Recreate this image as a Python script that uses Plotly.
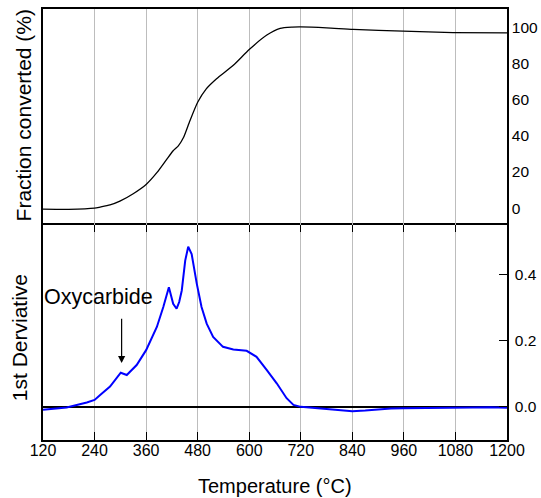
import plotly.graph_objects as go

# Top panel: fraction converted (%)
temp_frac = [120, 180, 240, 253, 276, 299, 330, 360, 385, 408, 423, 435, 447, 462,
             480, 500, 524, 563, 600, 641, 672, 700, 720, 780, 842, 958, 1074, 1200]
frac = [-0.5, -0.6, 0.0, 0.6, 1.8, 3.9, 8.0, 13.1, 19.6, 27.0, 31.7, 34.4, 39.0, 48.3,
        58.5, 65.9, 71.5, 78.9, 87.6, 95.6, 99.3, 100.0, 100.1, 99.6, 98.7, 97.8, 97.0, 96.8]

# Bottom panel: 1st derivative
temp_der = [120, 175, 222, 240, 253, 276, 301, 315, 338, 360, 385, 400, 413, 423, 431, 437,
            443, 451, 458, 466, 478, 489, 501, 516, 539, 563, 594, 617, 641, 664, 687,
            703, 720, 750, 780, 810, 840, 870, 900, 930, 958, 1000, 1040, 1074, 1120,
            1160, 1200]
deriv = [-0.009, -0.002, 0.013, 0.021, 0.036, 0.061, 0.103, 0.096, 0.126, 0.171, 0.241,
         0.301, 0.361, 0.311, 0.296, 0.316, 0.351, 0.441, 0.483, 0.461, 0.371, 0.301,
         0.251, 0.211, 0.181, 0.173, 0.169, 0.151, 0.111, 0.071, 0.026, 0.006, 0.0,
         -0.003, -0.007, -0.011, -0.013, -0.011, -0.007, -0.005, -0.004, -0.004, -0.003,
         -0.002, -0.002, -0.001, -0.003]

x_ticks = [120, 240, 360, 480, 600, 720, 840, 960, 1080, 1200]
top_y_ticks = [0, 20, 40, 60, 80, 100]
bot_y_ticks = [0.0, 0.2, 0.4]
bot_y_labels = ["0.0", "0.2", "0.4"]

FONT = "Arial, Liberation Sans, sans-serif"
SPLIT = 0.5

fig = go.Figure()
fig.add_trace(go.Scatter(x=temp_frac, y=frac, mode="lines", xaxis="x2", yaxis="y2",
                         line=dict(color="black", width=1.3, shape="spline", smoothing=0.6),
                         showlegend=False))
fig.add_trace(go.Scatter(x=temp_der, y=deriv, mode="lines", xaxis="x", yaxis="y",
                         line=dict(color="#0000ff", width=2), showlegend=False))

fig.update_layout(
    width=541, height=498,
    margin=dict(l=43, r=34, t=9, b=58, autoexpand=False),
    paper_bgcolor="white", plot_bgcolor="white",
    font=dict(family=FONT, size=16, color="black"),
    xaxis=dict(domain=[0, 1], anchor="y", range=[120, 1200], tickvals=x_ticks,
               showline=True, linecolor="black", linewidth=1.5, mirror="ticks",
               ticks="inside", ticklen=8, tickwidth=1.3, tickcolor="black",
               showgrid=True, gridcolor="#bdbdbd", gridwidth=1, zeroline=False,
               tickfont=dict(size=16), ticklabelstandoff=-5, automargin=False),
    xaxis2=dict(domain=[0, 1], anchor="y2", side="top", range=[120, 1200], tickvals=x_ticks,
                matches="x", showticklabels=False, showline=True, linecolor="black",
                linewidth=1.5, mirror=False, ticks="", showgrid=True,
                gridcolor="#bdbdbd", gridwidth=1, zeroline=False, automargin=False),
    yaxis=dict(domain=[0, SPLIT], anchor="x", side="right", range=[-0.1, 0.55],
               tickvals=bot_y_ticks, ticktext=bot_y_labels, showline=True,
               linecolor="black", linewidth=1.5, mirror=True, ticks="inside",
               ticklen=8, tickwidth=1.3, tickcolor="black", showgrid=False,
               zeroline=True, zerolinecolor="black", zerolinewidth=1.5,
               tickfont=dict(size=15.5), ticklabelstandoff=3, automargin=False),
    yaxis2=dict(domain=[SPLIT, 1], anchor="x2", side="right", range=[-9, 110],
                tickvals=top_y_ticks, showline=True, linecolor="black", linewidth=1.5,
                mirror=True, ticks="", showgrid=False, zeroline=False,
                tickfont=dict(size=15.5), ticklabelstandoff=0, automargin=False),
)

fig.add_annotation(text="Temperature (°C)", xref="paper", yref="paper",
                   x=0.5, y=-0.107, xanchor="center", yanchor="middle",
                   showarrow=False, font=dict(size=20))
fig.add_annotation(text="Fraction converted (%)", xref="paper", yref="paper",
                   x=-0.042, y=0.752, xanchor="center", yanchor="middle",
                   textangle=-90, showarrow=False, font=dict(size=21))
fig.add_annotation(text="1st Derviative", xref="paper", yref="paper",
                   x=-0.05, y=0.238, xanchor="center", yanchor="middle",
                   textangle=-90, showarrow=False, font=dict(size=21))

# Oxycarbide label and arrow
fig.add_annotation(text="Oxycarbide", x=249, y=0.33, xref="x", yref="y",
                   showarrow=False, font=dict(size=21.5), xanchor="center", yanchor="middle")
fig.add_annotation(x=303, y=0.132, ax=303, ay=0.27, xref="x", yref="y", axref="x", ayref="y",
                   text="", showarrow=True, arrowhead=2, arrowsize=1.2, arrowwidth=1.2,
                   arrowcolor="black")

fig.write_html("out.html")
